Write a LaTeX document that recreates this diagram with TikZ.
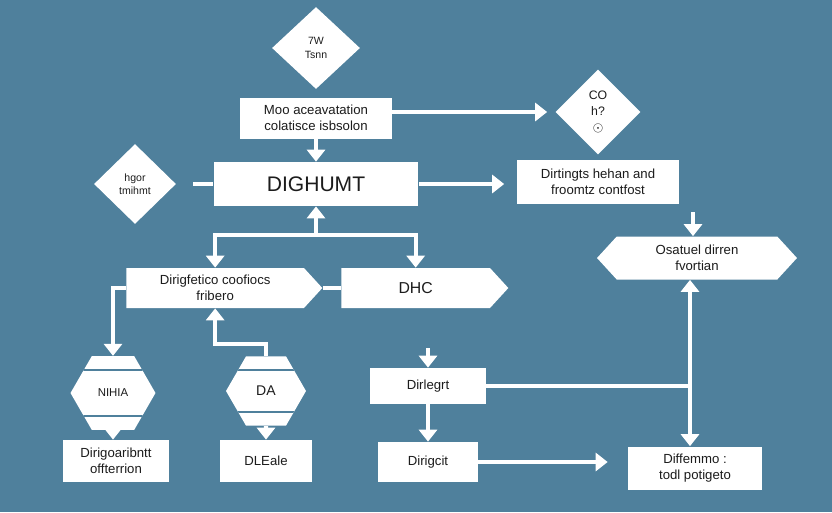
\documentclass[tikz,border=0pt]{standalone}
\usepackage{fontspec}
\setmainfont{Liberation Sans}
\usepackage{tikz}
\usetikzlibrary{arrows.meta,shapes.geometric,shapes.symbols}
\definecolor{bgc}{HTML}{4F809C}
\definecolor{txt}{HTML}{1C1C1C}
\tikzset{
  box/.style={fill=white,text=txt,align=center,inner sep=0pt,font=\fontsize{7.5}{9}\selectfont},
  dia/.style={box,diamond,font=\fontsize{6}{7.5}\selectfont},
  sig/.style={box,signal,signal to=east,signal pointer angle=95,anchor=west},
  hexa/.style={box,regular polygon,regular polygon sides=6,minimum size=#1,font=\fontsize{6.5}{8}\selectfont,
    path picture={\draw[bgc,line width=1pt] ([yshift=-0.28cm]path picture bounding box.north west) -- ([yshift=-0.28cm]path picture bounding box.north east);
      \draw[bgc,line width=1pt] ([yshift=0.28cm]path picture bounding box.south west) -- ([yshift=0.28cm]path picture bounding box.south east);}},
  ln/.style={white,line width=2.3pt},
  fl/.style={ln,-{Triangle[length=0.24cm,width=0.36cm]}},
  dfl/.style={ln,{Triangle[length=0.24cm,width=0.36cm]}-{Triangle[length=0.24cm,width=0.36cm]}}
}
\begin{document}
\begin{tikzpicture}[x=0.02cm,y=-0.02cm]
\fill[bgc] (0,0) rectangle (832,512); \useasboundingbox (0,0) rectangle (832,512);
\node[dia,minimum width=1.76cm,minimum height=1.64cm] (tdia) at (316,48) {7W\\Tsnn};
\node[box,minimum width=3.04cm,minimum height=0.82cm] (moo) at (316,118) {Moo aceavatation\\colatisce isbsolon};
\node[dia,minimum width=1.7cm,minimum height=1.7cm,font=\fontsize{7}{9}\selectfont] (codia) at (598,112) {CO\\h?\\$\odot$};
\node[box,minimum width=3.26cm,minimum height=0.88cm] (dirt) at (598,182) {Dirtingts hehan and\\froomtz contfost};
\node[dia,minimum width=1.64cm,minimum height=1.6cm] (hdia) at (135,184) {hgor\\tmihmt};
\node[box,minimum width=4.1cm,minimum height=0.88cm,font=\fontsize{12}{14}\selectfont] (dig) at (316,184) {DIGHUMT};
\node[sig,minimum width=3.92cm,minimum height=0.8cm] (dir) at (126,288) {Dirigfetico coofiocs\\fribero};
\node[sig,minimum width=3.34cm,minimum height=0.8cm,font=\fontsize{9}{11}\selectfont] (dhc) at (341,288) {DHC};
\node[box,signal,signal to=east and west,signal pointer angle=95,minimum width=4cm,minimum height=0.86cm] (osat) at (697,258) {Osatuel dirren\\fvortian};
\node[hexa=1.7cm] (nihia) at (113,393) {NIHIA};
\node[hexa=1.6cm,font=\fontsize{8}{9}\selectfont] (da) at (266,391) {DA};
\node[box,minimum width=2.14cm,minimum height=0.84cm] (bone) at (116,461) {Dirigoaribntt\\offterrion};
\node[box,minimum width=1.86cm,minimum height=0.84cm] (btwo) at (266,461) {DLEale};
\node[box,minimum width=2.32cm,minimum height=0.72cm] (legrt) at (428,386) {Dirlegrt};
\node[box,minimum width=2.0cm,minimum height=0.8cm] (cit) at (428,462) {Dirigcit};
\node[box,minimum width=2.68cm,minimum height=0.86cm] (diff) at (695,468) {Diffemmo :\\todl potigeto};
\coordinate (split) at (316,235); \coordinate (jn) at (690,386);
\coordinate (inlegrt) at (428,348); \coordinate (inosat) at (693,212);
\draw[fl,shorten >=0.16cm] (moo.east |- codia.west) -- (codia.west);
\draw[fl] (moo.south) -- (dig.north);
\draw[ln,shorten <=0.34cm] (hdia.east) -- (dig.west);
\draw[fl,shorten >=0.24cm] (dig.east) -- (dig.east -| dirt.west);
\draw[fl] (split) -- (dig.south);
\draw[fl] (split) -| (dir.north); \draw[fl] (split) -| (dhc.north);
\draw[ln] (dir.east) -- (dhc.west);
\draw[fl] (dir.west) -| (nihia.north);
\draw[fl] (da.north) -- ++(0,-12) -| (dir.south);
\draw[fl] (nihia.south) -- (nihia.south |- bone.north); \draw[fl] (da.south) -- (btwo.north);
\draw[fl] (inlegrt) -- (legrt.north);
\draw[fl] (legrt.south) -- (cit.north);
\draw[fl,shorten >=0.4cm] (cit.east) -- (cit.east -| diff.west);
\draw[ln] (legrt.east) -- (jn);
\draw[fl] (jn) -- (jn |- osat.south); \draw[fl] (jn) -- (jn |- diff.north);
\draw[fl] (inosat) -- (inosat |- osat.north);
\end{tikzpicture}
\end{document}
